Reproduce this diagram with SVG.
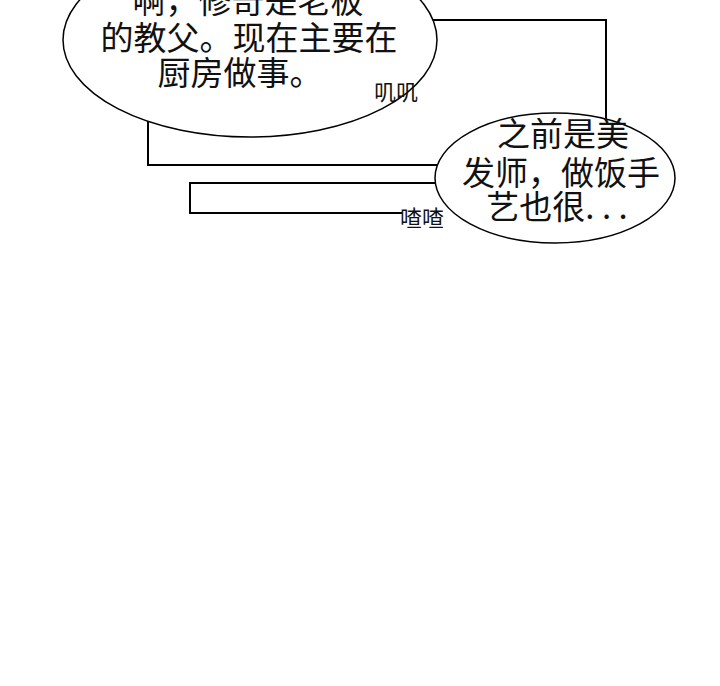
<svg xmlns="http://www.w3.org/2000/svg" width="720" height="686" viewBox="0 0 720 686">
<style>
.ln{fill:none;stroke:#000;stroke-width:2}
.b{fill:#fff;stroke:#000;stroke-width:1.5}
.t{font-family:"Noto Sans CJK SC",sans-serif;font-size:33px;fill:#111;text-anchor:middle}
.s{font-family:"Noto Sans CJK SC",serif;font-size:22px;fill:#111}
</style>
<rect width="720" height="686" fill="#fff"/>
<g id="connectors">
<polyline class="ln" points="420,20 606,20 606,120"/>
<polyline class="ln" points="148,110 148,165 445,165"/>
<polyline class="ln" points="445,183 190,183 190,213 402,213"/>
</g>
<g id="bubble1">
<ellipse class="b" cx="250" cy="40" rx="187" ry="97"/>
<text class="t" x="248" y="13">啊，修奇是老板</text>
<text class="t" x="249" y="50">的教父。现在主要在</text>
<text class="t" x="240" y="85">厨房做事。</text>
</g>
<text class="s" x="374" y="100">叽叽</text>
<g id="bubble2">
<ellipse class="b" cx="555" cy="178" rx="120" ry="65"/>
<text class="t" x="563" y="146">之前是美</text>
<text class="t" x="561" y="185">发师，做饭手</text>
<text class="t" x="557" y="219">艺也很. . .</text>
</g>
<text class="s" x="400" y="226">喳喳</text>
</svg>
